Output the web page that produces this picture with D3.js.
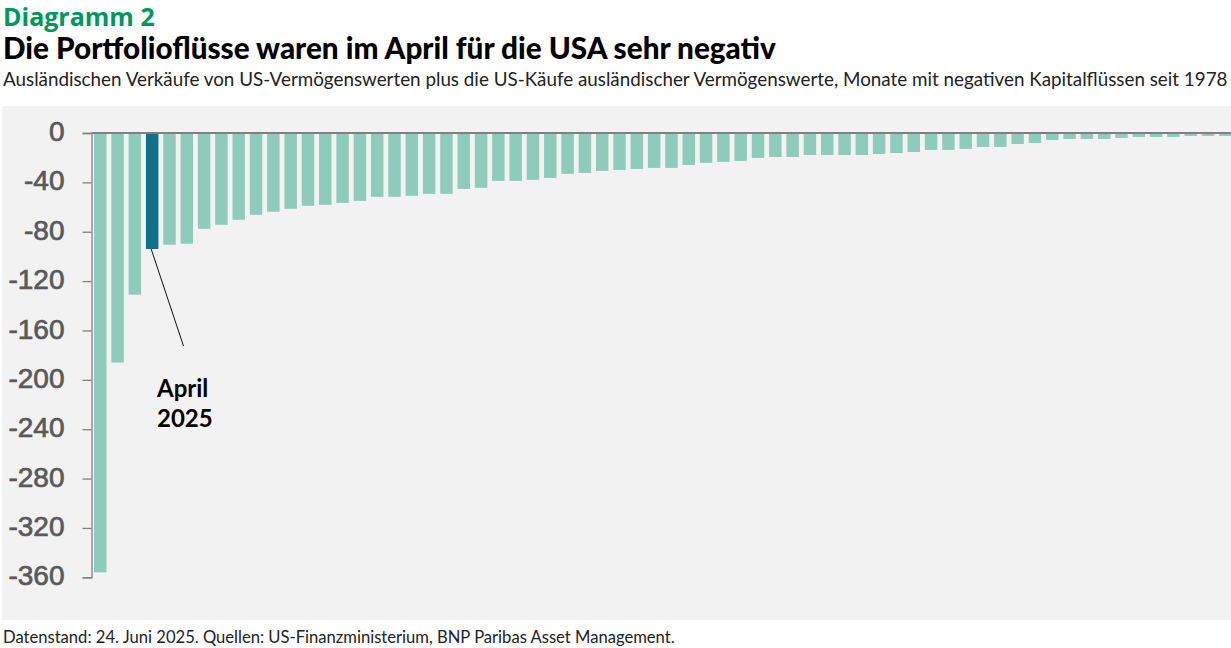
<!DOCTYPE html>
<html>
<head>
<meta charset="utf-8">
<script src="https://cdn.jsdelivr.net/npm/d3@7"></script>
<style>
  html, body { margin: 0; padding: 0; background: #ffffff; }
  svg { display: block; }
</style>
</head>
<body>
<svg id="chart" width="1231" height="648"></svg>
<script>
// ---- data ----
const chartLabel = "Diagramm 2";
const title = "Die Portfolioflüsse waren im April für die USA sehr negativ";
const subtitle = "Ausländischen Verkäufe von US-Vermögenswerten plus die US-Käufe ausländischer Vermögenswerte, Monate mit negativen Kapitalflüssen seit 1978";
const footer = "Datenstand: 24. Juni 2025. Quellen: US-Finanzministerium, BNP Paribas Asset Management.";

// negative monthly flows (USD bn), sorted, one bar per month
const flowValues = [
  -356, -186, -131, -94, -90.5, -89.7, -77.6, -74.4, -70.3, -66.3,
  -63.8, -61.4, -59, -58.2, -56.6, -55, -51.7, -51.7, -50.9, -49.3,
  -49.3, -45.3, -44.4, -38.8, -38.8, -38, -36.4, -33.1, -32.3, -30.7,
  -29.9, -29.1, -28.3, -28.3, -25.9, -24.2, -23.4, -22.6, -20.2, -19.4,
  -19.4, -17.8, -17.8, -17.8, -17.8, -17, -16.2, -15.4, -13.7, -13.7,
  -12.9, -11.3, -11.3, -8.9, -8.1, -5.7, -4.8, -4.8, -4.8, -4,
  -3.2, -3.2, -3.2, -2.4, -2.4, -2.4
];
const monthRank = flowValues.map((v, i) => i);      // category ids
const highlightIndex = 3;                            // April 2025
const highlightLabel = ["April", "2025"];
const yTicks = [0, -40, -80, -120, -160, -200, -240, -280, -320, -360];

// ---- layout ----
const svg = d3.select("#chart");
const W = 1231, H = 648;

function fitText(sel, target, maxSize) {
  const node = sel.node();
  const fs = parseFloat(sel.attr("font-size"));
  const w = node.getComputedTextLength();
  if (w > 0) {
    let s = fs * target / w;
    if (maxSize) s = Math.min(s, maxSize);
    sel.attr("font-size", s.toFixed(2));
  }
}

// titles
const t0 = svg.append("text").attr("x", 3).attr("y", 26)
  .attr("font-family", "'Open Sans', Lato, sans-serif").attr("font-weight", 700)
  .attr("font-size", 24).attr("fill", "#00965e").text(chartLabel);
fitText(t0, 159, 25);
const t1 = svg.append("text").attr("x", 3).attr("y", 59)
  .attr("font-family", "Lato, 'Open Sans', sans-serif").attr("font-weight", 900)
  .attr("font-size", 24).attr("fill", "#000").text(title);
fitText(t1, 773);
const t2 = svg.append("text").attr("x", 3).attr("y", 86)
  .attr("font-family", "Lato, 'Open Sans', sans-serif").attr("font-weight", 400)
  .attr("font-size", 17).attr("fill", "#222").text(subtitle);
fitText(t2, 1225);
const t3 = svg.append("text").attr("x", 3).attr("y", 643)
  .attr("font-family", "Lato, 'Open Sans', sans-serif").attr("font-weight", 400)
  .attr("font-size", 16).attr("fill", "#222").text(footer);
fitText(t3, 672);

// panel
svg.append("rect").attr("x", 2).attr("y", 106).attr("width", W - 2).attr("height", 514)
  .attr("fill", "#f2f2f2");

// scales
const x = d3.scaleBand().domain(monthRank).range([91.6, 1234])
  .paddingInner(0.28).paddingOuter(0.14);
const y = d3.scaleLinear().domain([-360, 0]).range([577.3, 133]);

// bars
svg.append("g").selectAll("rect").data(flowValues).join("rect")
  .attr("x", (d, i) => x(monthRank[i]))
  .attr("y", y(0))
  .attr("width", x.bandwidth())
  .attr("height", d => y(d) - y(0))
  .attr("fill", (d, i) => i === highlightIndex ? "#146f8f" : "#8ecbbb");

// y axis
const yAxis = d3.axisLeft(y).tickValues(yTicks).tickSize(9).tickPadding(18)
  .tickFormat(d3.format("d"));
const ga = svg.append("g").attr("transform", "translate(91.5,0)").call(yAxis);
ga.select(".domain").attr("stroke", "#808080").attr("stroke-width", 1.3);
ga.selectAll(".tick line").attr("stroke", "#808080").attr("stroke-width", 1.3);
ga.selectAll(".tick text")
  .attr("font-family", "'Liberation Sans', Arial, sans-serif")
  .attr("font-size", 28).attr("fill", "#595959").attr("dy", "0.27em")
  .attr("stroke", "#595959").attr("stroke-width", 0.7)
  .text(d => d === 0 ? "0" : d3.format("d")(d).replace("−", "-"));

// zero line
svg.append("line").attr("x1", 91.5).attr("x2", W).attr("y1", y(0)).attr("y2", y(0))
  .attr("stroke", "#808080").attr("stroke-width", 2.2);

// annotation
const hx = x(monthRank[highlightIndex]) + x.bandwidth() / 2;
svg.append("line").attr("x1", hx - 1).attr("y1", y(flowValues[highlightIndex]))
  .attr("x2", 183.5).attr("y2", 346)
  .attr("stroke", "#111").attr("stroke-width", 1);
const ann = svg.append("text").attr("x", 157).attr("y", 397)
  .attr("font-family", "Lato, 'Open Sans', sans-serif").attr("font-weight", 700)
  .attr("font-size", 24).attr("fill", "#000");
ann.selectAll("tspan").data(highlightLabel).join("tspan")
  .attr("x", 157).attr("dy", (d, i) => i === 0 ? 0 : 30).text(d => d);
</script>
</body>
</html>
